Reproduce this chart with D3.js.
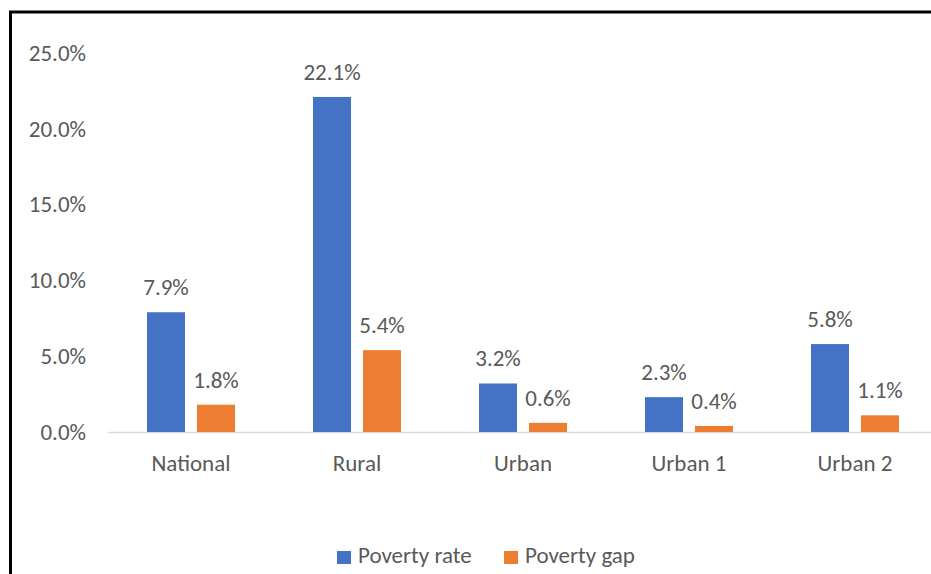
<!DOCTYPE html>
<html>
<head>
<meta charset="utf-8">
<script src="https://cdn.jsdelivr.net/npm/d3@7"></script>
<style>
  body { margin: 0; background: #fff; }
  svg text { font-family: Carlito, Lato, "Open Sans", sans-serif; fill: #595959; }
</style>
</head>
<body>
<svg id="chart" width="931" height="574"></svg>
<script>
// chart values
const categories = ["National", "Rural", "Urban", "Urban 1", "Urban 2"];
const seriesNames = ["Poverty rate", "Poverty gap"];
const povertyRate = [7.9, 22.1, 3.2, 2.3, 5.8];
const povertyGap = [1.8, 5.4, 0.6, 0.4, 1.1];
const yTicks = [0, 5, 10, 15, 20, 25];
const colors = ["#4472C4", "#ED7D31"];

const fontSize = "23px";
const svg = d3.select("#chart");

// outer frame (runs off the right and bottom of the picture)
svg.append("rect")
    .attr("x", 10.5).attr("y", 12)
    .attr("width", 1000).attr("height", 1000)
    .attr("fill", "none")
    .attr("stroke", "#000")
    .attr("stroke-width", 3);

const x = d3.scaleBand()
    .domain(categories)
    .range([108, 938]);

const y = d3.scaleLinear()
    .domain([0, 25])
    .range([432, 53]);

const inner = d3.scaleBand()
    .domain(seriesNames)
    .range([x.bandwidth() / 2 - 44, x.bandwidth() / 2 + 44])
    .paddingInner(0.24);

// y axis labels only, no line
const yAxis = svg.append("g")
    .attr("transform", "translate(86,0)")
    .call(d3.axisLeft(y).tickValues(yTicks).tickSize(0).tickPadding(0)
        .tickFormat(d => d.toFixed(1) + "%"));
yAxis.select(".domain").remove();
yAxis.selectAll("text")
    .style("font-size", fontSize)
    .attr("fill", "#595959");

// x axis
const xAxis = svg.append("g")
    .attr("transform", "translate(0,432)")
    .call(d3.axisBottom(x).tickSize(0).tickPadding(23));
xAxis.select(".domain").attr("stroke", "#D9D9D9").attr("stroke-width", 1.5);
xAxis.selectAll("text")
    .style("font-size", fontSize)
    .attr("fill", "#595959");

const rows = categories.map((c, i) => ({
    category: c,
    values: [
        { series: seriesNames[0], value: povertyRate[i], color: colors[0] },
        { series: seriesNames[1], value: povertyGap[i], color: colors[1] }
    ]
}));

const groups = svg.selectAll("g.group")
    .data(rows)
    .join("g")
    .attr("class", "group")
    .attr("transform", d => `translate(${x(d.category)},0)`);

groups.selectAll("rect")
    .data(d => d.values)
    .join("rect")
    .attr("x", d => inner(d.series))
    .attr("width", inner.bandwidth())
    .attr("y", d => y(d.value))
    .attr("height", d => y(0) - y(d.value))
    .attr("fill", d => d.color);

groups.selectAll("text.label")
    .data(d => d.values)
    .join("text")
    .attr("class", "label")
    .attr("x", d => inner(d.series) + inner.bandwidth() / 2)
    .attr("y", d => y(d.value) - 17)
    .attr("text-anchor", "middle")
    .style("font-size", fontSize)
    .text(d => d.value.toFixed(1) + "%");

// legend
const legend = svg.append("g").attr("transform", "translate(337,551)");
const legendItems = [
    { name: seriesNames[0], color: colors[0], dx: 0 },
    { name: seriesNames[1], color: colors[1], dx: 167 }
];
const li = legend.selectAll("g")
    .data(legendItems)
    .join("g")
    .attr("transform", d => `translate(${d.dx},0)`);
li.append("rect")
    .attr("width", 14).attr("height", 13)
    .attr("fill", d => d.color);
li.append("text")
    .attr("x", 21).attr("y", 12)
    .style("font-size", fontSize)
    .text(d => d.name);
</script>
</body>
</html>
